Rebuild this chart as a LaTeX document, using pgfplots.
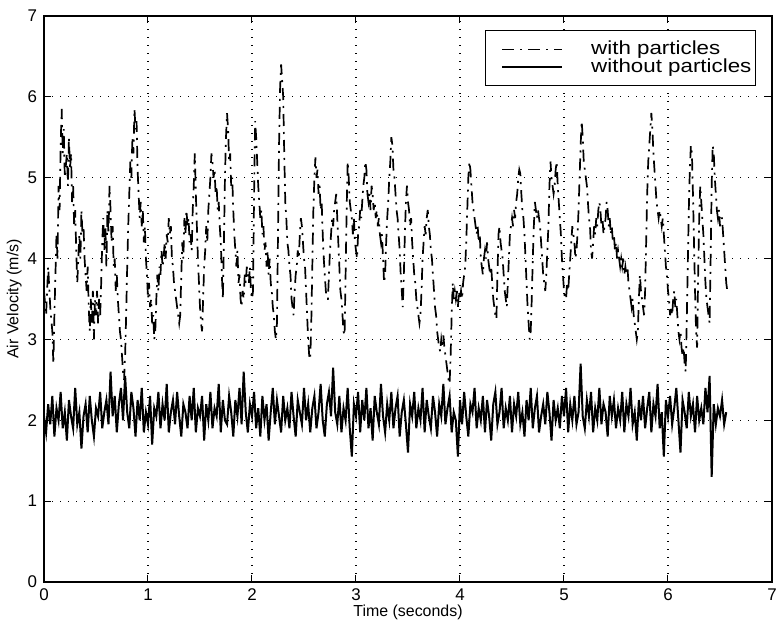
\documentclass[border=0pt]{standalone}
\usepackage{fontspec}
\setmainfont{Liberation Sans}
\usepackage{graphicx}
\usepackage{pgfplots}
\pgfplotsset{compat=1.18}
\begin{document}
\begin{tikzpicture}
\path[use as bounding box] (-22bp,-19.5bp) rectangle (366.5bp,291bp);
\begin{axis}[
  at={(0,0)}, anchor=south west,
  scale only axis, width=364bp, height=283bp,
  xmin=0, xmax=7, ymin=0, ymax=7,
  xtick={0,1,2,3,4,5,6,7}, ytick={0,1,2,3,4,5,6,7},
  tick align=inside, xtick pos=both, ytick pos=both,
  major tick length=3.5bp,
  tick style={black, line width=0.5bp},
  axis line style={line width=0.7bp},
  grid=major,
  major grid style={black, line width=0.6bp, dash pattern=on 0.6bp off 3.4bp},
  /pgf/number format/assume math mode=true,
  tick label style={font=\fontsize{8.5}{9}\selectfont},
  label style={font=\fontsize{8}{9}\selectfont},
  xlabel={Time (seconds)},
  ylabel={Air Velocity (m/s)},
  xlabel style={at={(axis description cs:0.5,-0.054)}, anchor=center},
  ylabel style={at={(axis description cs:-0.041,0.5)}, anchor=center, rotate=0},
  legend style={at={(axis description cs:0.978,0.975)}, anchor=north east,
    draw=black, line width=0.6bp, fill=white, inner xsep=0pt, inner ysep=5pt,
    font=\fontsize{9.5}{10}\selectfont, row sep=0pt, cells={anchor=west},
    nodes={inner ysep=0.2pt}},
  legend cell align=left,
  legend image code/.code={\fill[white, opacity=0] (-8bp,-1bp) rectangle (0bp,1bp); \draw[#1] (0bp,0bp) -- (30bp,0bp);},
]
\addplot[black, line width=0.85bp, dash pattern=on 6bp off 3bp on 1bp off 3bp] coordinates {
(0.00,3.6)(0.02,3.3)(0.04,3.9)(0.06,3.4)(0.08,3.1)(0.09,2.7)(0.10,3.3)(0.12,4.3)(0.13,4.0)(0.14,4.9)(0.15,4.6)(0.16,5.4)(0.17,5.85)(0.18,5.3)(0.19,5.6)(0.20,5.0)(0.22,5.3)(0.23,4.9)(0.24,5.5)(0.25,5.1)(0.26,5.3)(0.27,4.7)(0.28,4.9)(0.29,4.4)(0.30,4.6)(0.31,4.1)(0.32,3.7)(0.33,4.0)(0.34,4.3)(0.35,4.0)(0.36,4.6)(0.37,4.3)(0.38,4.4)(0.39,4.0)(0.40,3.8)(0.41,3.6)(0.42,3.9)(0.43,3.4)(0.44,3.1)(0.45,3.5)(0.46,3.2)(0.47,3.6)(0.48,3.0)(0.49,3.5)(0.50,3.3)(0.51,3.6)(0.52,3.2)(0.53,3.5)(0.54,3.3)(0.55,3.7)(0.56,4.2)(0.57,4.5)(0.58,4.1)(0.59,4.4)(0.60,3.9)(0.61,4.6)(0.62,4.3)(0.63,4.9)(0.64,4.6)(0.65,4.2)(0.66,4.4)(0.67,3.9)(0.68,4.0)(0.69,3.6)(0.70,3.8)(0.71,3.5)(0.72,3.3)(0.73,3.1)(0.74,3.0)(0.75,2.8)(0.76,2.6)(0.77,2.5)(0.78,2.8)(0.79,3.3)(0.80,3.9)(0.81,4.4)(0.82,4.8)(0.83,5.2)(0.84,5.0)(0.85,5.5)(0.86,5.3)(0.87,5.85)(0.88,5.6)(0.89,5.7)(0.90,5.1)(0.91,4.8)(0.92,4.5)(0.93,4.7)(0.94,4.4)(0.95,4.6)(0.96,4.2)(0.97,4.4)(0.98,4.0)(0.99,3.8)
(1.00,3.5)(1.01,3.7)(1.02,3.4)(1.03,3.5)(1.04,3.2)(1.05,3.3)(1.06,3.0)(1.07,3.1)(1.08,3.5)(1.09,3.8)(1.10,3.6)(1.11,3.9)(1.12,3.8)(1.13,4.1)(1.14,3.9)(1.15,4.0)(1.16,4.2)(1.17,4.0)(1.18,4.3)(1.19,4.2)(1.20,4.5)(1.21,4.3)(1.22,4.4)(1.23,4.0)(1.24,3.9)(1.25,3.7)(1.26,3.6)(1.27,3.5)(1.28,3.4)(1.29,3.3)(1.30,3.2)(1.31,3.3)(1.32,3.8)(1.33,4.2)(1.34,4.0)(1.35,4.5)(1.36,4.3)(1.37,4.6)(1.38,4.4)(1.39,4.5)(1.40,4.2)(1.41,4.3)(1.42,4.1)(1.43,4.6)(1.44,4.9)(1.45,5.3)(1.46,4.8)(1.47,4.4)(1.48,4.0)(1.49,3.7)(1.50,3.4)(1.51,3.2)(1.52,3.1)(1.53,3.5)(1.54,3.9)(1.55,4.1)(1.56,4.4)(1.57,4.2)(1.58,4.6)(1.59,4.8)(1.60,5.0)(1.61,5.3)(1.62,5.2)(1.63,5.0)(1.64,5.1)(1.65,4.8)(1.66,4.9)(1.67,4.6)(1.68,4.7)(1.69,4.4)(1.70,4.2)(1.71,3.8)(1.72,3.5)(1.73,4.2)(1.74,5.0)(1.75,5.5)(1.76,5.8)(1.77,5.6)(1.78,5.2)(1.79,5.3)(1.80,4.9)(1.81,5.0)(1.82,4.6)(1.83,4.3)(1.84,4.1)(1.85,3.9)(1.86,4.1)(1.87,3.7)(1.88,3.8)(1.89,3.5)(1.90,3.4)(1.91,3.6)(1.92,3.5)(1.93,3.8)(1.94,3.7)(1.95,3.9)(1.96,3.8)(1.97,3.7)(1.98,3.9)(1.99,3.6)
(2.00,3.5)(2.01,3.6)(2.02,4.8)(2.03,5.7)(2.04,5.5)(2.05,5.2)(2.06,4.9)(2.07,4.7)(2.08,4.5)(2.09,4.6)(2.10,4.3)(2.11,4.4)(2.12,4.1)(2.13,4.2)(2.14,3.9)(2.15,4.1)(2.16,3.8)(2.17,4.0)(2.18,3.7)(2.19,3.6)(2.20,3.4)(2.21,3.3)(2.22,3.1)(2.23,3.0)(2.24,3.2)(2.25,4.3)(2.26,5.4)(2.27,6.1)(2.28,6.4)(2.29,6.2)(2.30,6.0)(2.31,5.3)(2.32,4.7)(2.33,4.5)(2.34,4.2)(2.35,4.1)(2.36,3.9)(2.37,3.8)(2.38,3.5)(2.39,3.4)(2.40,3.3)(2.41,3.6)(2.42,3.8)(2.43,3.9)(2.44,4.1)(2.45,4.0)(2.46,4.3)(2.47,4.5)(2.48,4.4)(2.49,4.2)(2.50,4.0)(2.51,3.9)(2.52,3.6)(2.53,3.3)(2.54,3.0)(2.55,2.8)(2.56,2.75)(2.57,3.2)(2.58,3.9)(2.59,4.6)(2.60,5.0)(2.61,5.25)(2.62,5.0)(2.63,5.1)(2.64,4.8)(2.65,4.9)(2.66,4.6)(2.67,4.7)(2.68,4.3)(2.69,4.0)(2.70,3.8)(2.71,3.6)(2.72,3.5)(2.73,3.5)(2.74,3.8)(2.75,4.1)(2.76,4.3)(2.77,4.5)(2.78,4.4)(2.79,4.6)(2.80,4.7)(2.81,4.8)(2.82,4.5)(2.83,4.2)(2.84,3.9)(2.85,3.6)(2.86,3.5)(2.87,3.3)(2.88,3.1)(2.89,3.05)(2.90,3.8)(2.91,4.6)(2.92,5.2)(2.93,5.0)(2.94,4.7)(2.95,4.6)(2.96,4.5)(2.97,4.3)(2.98,4.5)(2.99,4.2)
(3.00,4.1)(3.01,4.0)(3.02,4.3)(3.03,4.4)(3.04,4.6)(3.05,4.5)(3.06,4.7)(3.07,4.9)(3.08,5.0)(3.09,5.2)(3.10,5.1)(3.11,4.8)(3.12,4.7)(3.13,4.8)(3.14,4.6)(3.15,4.9)(3.16,4.8)(3.17,4.6)(3.18,4.7)(3.19,4.5)(3.20,4.6)(3.21,4.4)(3.22,4.5)(3.23,4.3)(3.24,4.2)(3.25,4.3)(3.26,4.0)(3.27,3.7)(3.28,3.8)(3.29,4.2)(3.30,4.5)(3.31,4.7)(3.32,5.0)(3.33,5.2)(3.34,5.5)(3.35,5.4)(3.36,5.1)(3.37,5.0)(3.38,4.8)(3.39,4.6)(3.40,4.5)(3.41,4.3)(3.42,4.1)(3.43,3.8)(3.44,3.6)(3.45,3.4)(3.46,3.8)(3.47,4.3)(3.48,4.7)(3.49,4.9)(3.50,4.7)(3.51,4.6)(3.52,4.4)(3.53,4.5)(3.54,4.2)(3.55,4.0)(3.56,3.8)(3.57,3.7)(3.58,3.5)(3.59,3.4)(3.60,3.3)(3.61,3.2)(3.62,3.3)(3.63,3.6)(3.64,4.0)(3.65,4.2)(3.66,4.4)(3.67,4.3)(3.68,4.5)(3.69,4.6)(3.70,4.4)(3.71,4.3)(3.72,4.1)(3.73,4.0)(3.74,3.8)(3.75,3.6)(3.76,3.4)(3.77,3.3)(3.78,3.1)(3.79,3.0)(3.80,2.9)(3.81,2.85)(3.82,3.0)(3.83,2.9)(3.84,3.05)(3.85,2.9)(3.86,2.8)(3.87,2.7)(3.88,2.6)(3.89,2.5)(3.90,2.45)(3.91,2.8)(3.92,3.3)(3.93,3.7)(3.94,3.5)(3.95,3.6)(3.96,3.5)(3.97,3.6)(3.98,3.4)(3.99,3.6)
(4.00,3.5)(4.01,3.6)(4.02,3.5)(4.03,3.7)(4.04,3.8)(4.05,3.9)(4.06,4.2)(4.07,4.6)(4.08,5.0)(4.09,5.2)(4.10,5.1)(4.11,4.9)(4.12,4.7)(4.13,4.6)(4.14,4.5)(4.15,4.4)(4.16,4.3)(4.17,4.4)(4.18,4.2)(4.19,4.3)(4.20,4.0)(4.21,3.9)(4.22,3.8)(4.23,4.0)(4.24,4.1)(4.25,4.0)(4.26,4.2)(4.27,4.0)(4.28,3.9)(4.29,3.8)(4.30,3.9)(4.31,3.7)(4.32,3.5)(4.33,3.4)(4.34,3.3)(4.35,3.25)(4.36,3.8)(4.37,4.3)(4.38,4.4)(4.39,4.2)(4.40,4.1)(4.41,4.0)(4.42,3.8)(4.43,3.6)(4.44,3.5)(4.45,3.4)(4.46,3.7)(4.47,4.0)(4.48,4.3)(4.49,4.4)(4.50,4.5)(4.51,4.4)(4.52,4.6)(4.53,4.5)(4.54,4.7)(4.55,4.8)(4.56,5.0)(4.57,5.1)(4.58,5.05)(4.59,4.8)(4.60,4.6)(4.61,4.5)(4.62,4.3)(4.63,4.0)(4.64,3.7)(4.65,3.4)(4.66,3.2)(4.67,3.0)(4.68,3.1)(4.69,3.5)(4.70,4.0)(4.71,4.4)(4.72,4.7)(4.73,4.6)(4.74,4.5)(4.75,4.6)(4.76,4.5)(4.77,4.4)(4.78,4.2)(4.79,4.0)(4.80,3.8)(4.81,3.7)(4.82,3.6)(4.83,3.8)(4.84,4.1)(4.85,4.4)(4.86,4.9)(4.87,5.2)(4.88,5.0)(4.89,4.9)(4.90,4.8)(4.91,4.9)(4.92,5.1)(4.93,5.2)(4.94,4.9)(4.95,4.7)(4.96,4.5)(4.97,4.3)(4.98,4.0)(4.99,3.8)
(5.00,3.6)(5.01,3.5)(5.02,3.5)(5.03,3.7)(5.04,3.6)(5.05,3.8)(5.06,4.0)(5.07,4.2)(5.08,4.4)(5.09,4.3)(5.10,4.2)(5.11,4.0)(5.12,4.1)(5.13,4.3)(5.14,4.6)(5.15,5.0)(5.16,5.4)(5.17,5.7)(5.18,5.5)(5.19,5.2)(5.20,5.1)(5.21,5.0)(5.22,4.9)(5.23,4.7)(5.24,4.5)(5.25,4.4)(5.26,4.1)(5.27,4.0)(5.28,4.2)(5.29,4.4)(5.30,4.3)(5.31,4.5)(5.32,4.4)(5.33,4.6)(5.34,4.7)(5.35,4.6)(5.36,4.4)(5.37,4.5)(5.38,4.3)(5.39,4.4)(5.40,4.5)(5.41,4.7)(5.42,4.6)(5.43,4.4)(5.44,4.5)(5.45,4.3)(5.46,4.4)(5.47,4.2)(5.48,4.3)(5.49,4.1)(5.50,4.2)(5.51,4.0)(5.52,4.1)(5.53,4.0)(5.54,3.9)(5.55,4.0)(5.56,3.9)(5.57,4.0)(5.58,3.8)(5.59,3.9)(5.60,3.8)(5.61,3.9)(5.62,3.7)(5.63,3.6)(5.64,3.5)(5.65,3.4)(5.66,3.5)(5.67,3.3)(5.68,3.2)(5.69,3.1)(5.70,3.0)(5.71,3.1)(5.72,3.5)(5.73,3.8)(5.74,3.6)(5.75,3.5)(5.76,3.4)(5.77,3.3)(5.78,3.6)(5.79,4.2)(5.80,4.8)(5.81,5.2)(5.82,5.4)(5.83,5.6)(5.84,5.8)(5.85,5.6)(5.86,5.3)(5.87,5.1)(5.88,4.9)(5.89,4.7)(5.90,4.6)(5.91,4.5)(5.92,4.6)(5.93,4.5)(5.94,4.4)(5.95,4.5)(5.96,4.3)(5.97,4.1)(5.98,3.9)(5.99,3.8)
(6.00,3.6)(6.01,3.5)(6.02,3.3)(6.03,3.4)(6.04,3.3)(6.05,3.5)(6.06,3.6)(6.07,3.4)(6.08,3.5)(6.09,3.3)(6.10,3.1)(6.11,3.0)(6.12,3.1)(6.13,2.9)(6.14,2.8)(6.15,2.9)(6.16,2.7)(6.17,2.6)(6.18,3.2)(6.19,3.9)(6.20,4.6)(6.21,5.1)(6.22,5.4)(6.23,5.3)(6.24,4.8)(6.25,4.2)(6.26,3.6)(6.27,3.1)(6.28,2.9)(6.29,3.8)(6.30,4.5)(6.31,4.9)(6.32,4.7)(6.33,4.5)(6.34,4.3)(6.35,4.0)(6.36,3.7)(6.37,3.5)(6.38,3.4)(6.39,3.3)(6.40,3.2)(6.41,4.0)(6.42,4.9)(6.43,5.4)(6.44,5.3)(6.45,5.0)(6.46,4.8)(6.47,4.6)(6.48,4.5)(6.49,4.6)(6.50,4.4)(6.51,4.5)(6.52,4.5)(6.53,4.3)(6.54,4.1)(6.55,3.9)(6.56,3.7)(6.57,3.6)
};
\addlegendentry{\hspace*{12bp}\scalebox{1.18}[1]{with particles}}
\addplot[black, line width=1.0bp] coordinates {
(0.00,2.05)(0.02,1.85)(0.04,2.20)(0.06,1.95)(0.08,2.30)(0.10,1.80)(0.12,2.15)(0.14,2.00)(0.16,2.35)(0.18,1.90)
(0.20,2.10)(0.22,1.75)(0.24,2.25)(0.26,2.05)(0.28,1.90)(0.30,2.40)(0.32,1.95)(0.34,2.10)(0.36,1.65)(0.38,2.05)
(0.40,2.20)(0.42,1.85)(0.44,2.30)(0.46,2.00)(0.48,1.80)(0.50,2.15)(0.52,2.05)(0.54,2.35)(0.56,1.90)(0.58,2.10)
(0.60,2.25)(0.62,1.95)(0.64,2.60)(0.66,2.05)(0.68,2.30)(0.70,1.85)(0.72,2.20)(0.74,2.40)(0.76,2.00)(0.78,2.55)
(0.80,2.10)(0.82,1.90)(0.84,2.35)(0.86,2.15)(0.88,1.80)(0.90,2.25)(0.92,2.00)(0.94,2.40)(0.96,1.85)(0.98,2.10)
(1.00,1.95)(1.02,2.30)(1.04,1.70)(1.06,2.15)(1.08,2.05)(1.10,2.35)(1.12,1.90)(1.14,2.20)(1.16,2.00)(1.18,2.45)
(1.20,1.85)(1.22,2.10)(1.24,2.25)(1.26,1.95)(1.28,2.35)(1.30,2.05)(1.32,1.80)(1.34,2.20)(1.36,2.10)(1.38,1.90)
(1.40,2.30)(1.42,2.00)(1.44,2.40)(1.46,1.85)(1.48,2.15)(1.50,2.05)(1.52,2.30)(1.54,1.75)(1.56,2.20)(1.58,2.00)
(1.60,2.35)(1.62,1.90)(1.64,2.15)(1.66,2.05)(1.68,2.45)(1.70,1.85)(1.72,2.25)(1.74,2.00)(1.76,1.95)(1.78,2.30)
(1.80,2.10)(1.82,1.80)(1.84,2.25)(1.86,2.05)(1.88,2.40)(1.90,1.95)(1.92,2.60)(1.94,2.10)(1.96,1.85)(1.98,2.20)
(2.00,2.05)(2.02,2.35)(2.04,1.90)(2.06,2.15)(2.08,1.80)(2.10,2.30)(2.12,2.00)(2.14,2.20)(2.16,1.75)(2.18,2.10)
(2.20,2.40)(2.22,1.95)(2.24,2.25)(2.26,2.05)(2.28,1.85)(2.30,2.30)(2.32,2.00)(2.34,2.15)(2.36,1.90)(2.38,2.35)
(2.40,2.05)(2.42,1.80)(2.44,2.25)(2.46,2.10)(2.48,1.95)(2.50,2.40)(2.52,2.00)(2.54,2.20)(2.56,1.85)(2.58,2.15)
(2.60,2.30)(2.62,1.90)(2.64,2.10)(2.66,2.45)(2.68,2.00)(2.70,1.80)(2.72,2.20)(2.74,2.35)(2.76,2.05)(2.78,2.65)
(2.80,2.10)(2.82,1.95)(2.84,2.30)(2.86,1.85)(2.88,2.15)(2.90,2.00)(2.92,2.40)(2.94,1.90)(2.96,1.55)(2.98,2.20)
(3.00,2.05)(3.02,2.35)(3.04,1.85)(3.06,2.25)(3.08,2.00)(3.10,2.40)(3.12,1.90)(3.14,2.15)(3.16,1.75)(3.18,2.30)
(3.20,2.10)(3.22,1.95)(3.24,2.45)(3.26,2.05)(3.28,1.85)(3.30,2.20)(3.32,2.00)(3.34,2.35)(3.36,1.90)(3.38,2.15)
(3.40,2.30)(3.42,1.80)(3.44,2.10)(3.46,2.25)(3.48,1.95)(3.50,1.60)(3.52,2.20)(3.54,2.05)(3.56,2.35)(3.58,1.90)
(3.60,2.15)(3.62,2.00)(3.64,2.40)(3.66,1.85)(3.68,2.25)(3.70,2.05)(3.72,1.90)(3.74,2.30)(3.76,2.10)(3.78,1.80)
(3.80,2.20)(3.82,2.05)(3.84,2.45)(3.86,1.95)(3.88,2.15)(3.90,2.30)(3.92,1.85)(3.94,2.10)(3.96,2.00)(3.98,1.55)
(4.00,2.25)(4.02,1.95)(4.04,2.35)(4.06,2.05)(4.08,1.80)(4.10,2.20)(4.12,2.10)(4.14,2.40)(4.16,1.90)(4.18,2.15)
(4.20,2.00)(4.22,2.30)(4.24,1.85)(4.26,2.25)(4.28,2.05)(4.30,1.75)(4.32,2.20)(4.34,2.35)(4.36,1.95)(4.38,2.10)
(4.40,2.40)(4.42,1.90)(4.44,2.15)(4.46,2.00)(4.48,2.30)(4.50,1.85)(4.52,2.20)(4.54,2.05)(4.56,2.35)(4.58,1.95)
(4.60,2.10)(4.62,1.80)(4.64,2.25)(4.66,2.00)(4.68,2.40)(4.70,1.90)(4.72,2.15)(4.74,2.30)(4.76,1.85)(4.78,2.05)
(4.80,2.20)(4.82,1.95)(4.84,2.35)(4.86,2.10)(4.88,1.75)(4.90,2.25)(4.92,2.00)(4.94,2.15)(4.96,1.90)(4.98,2.30)
(5.00,2.05)(5.02,2.40)(5.04,1.85)(5.06,2.20)(5.08,2.00)(5.10,2.30)(5.12,1.95)(5.14,2.10)(5.16,2.70)(5.18,2.05)
(5.20,1.90)(5.22,2.25)(5.24,2.05)(5.26,2.35)(5.28,1.85)(5.30,2.15)(5.32,2.00)(5.34,2.40)(5.36,1.95)(5.38,2.20)
(5.40,2.10)(5.42,1.80)(5.44,2.30)(5.46,2.05)(5.48,2.25)(5.50,1.90)(5.52,2.15)(5.54,2.00)(5.56,2.35)(5.58,1.85)
(5.60,2.20)(5.62,2.05)(5.64,2.40)(5.66,1.95)(5.68,2.10)(5.70,1.75)(5.72,2.25)(5.74,2.00)(5.76,2.30)(5.78,1.90)
(5.80,2.15)(5.82,2.35)(5.84,1.85)(5.86,2.20)(5.88,2.05)(5.90,2.45)(5.92,1.90)(5.94,2.10)(5.96,1.55)(5.98,2.25)
(6.00,2.05)(6.02,2.30)(6.04,1.95)(6.06,2.15)(6.08,2.40)(6.10,2.00)(6.12,1.60)(6.14,2.25)(6.16,2.10)(6.18,1.90)
(6.20,2.35)(6.22,2.05)(6.24,2.20)(6.26,1.85)(6.28,2.30)(6.30,2.00)(6.32,2.15)(6.34,1.95)(6.36,2.40)(6.38,2.10)
(6.40,2.55)(6.42,1.30)(6.44,2.20)(6.46,1.95)(6.48,2.15)(6.50,2.05)(6.52,2.25)(6.54,1.95)(6.56,2.10)
};
\addlegendentry{\hspace*{12bp}\scalebox{1.18}[1]{without particles}}
\end{axis}
\end{tikzpicture}
\end{document}
